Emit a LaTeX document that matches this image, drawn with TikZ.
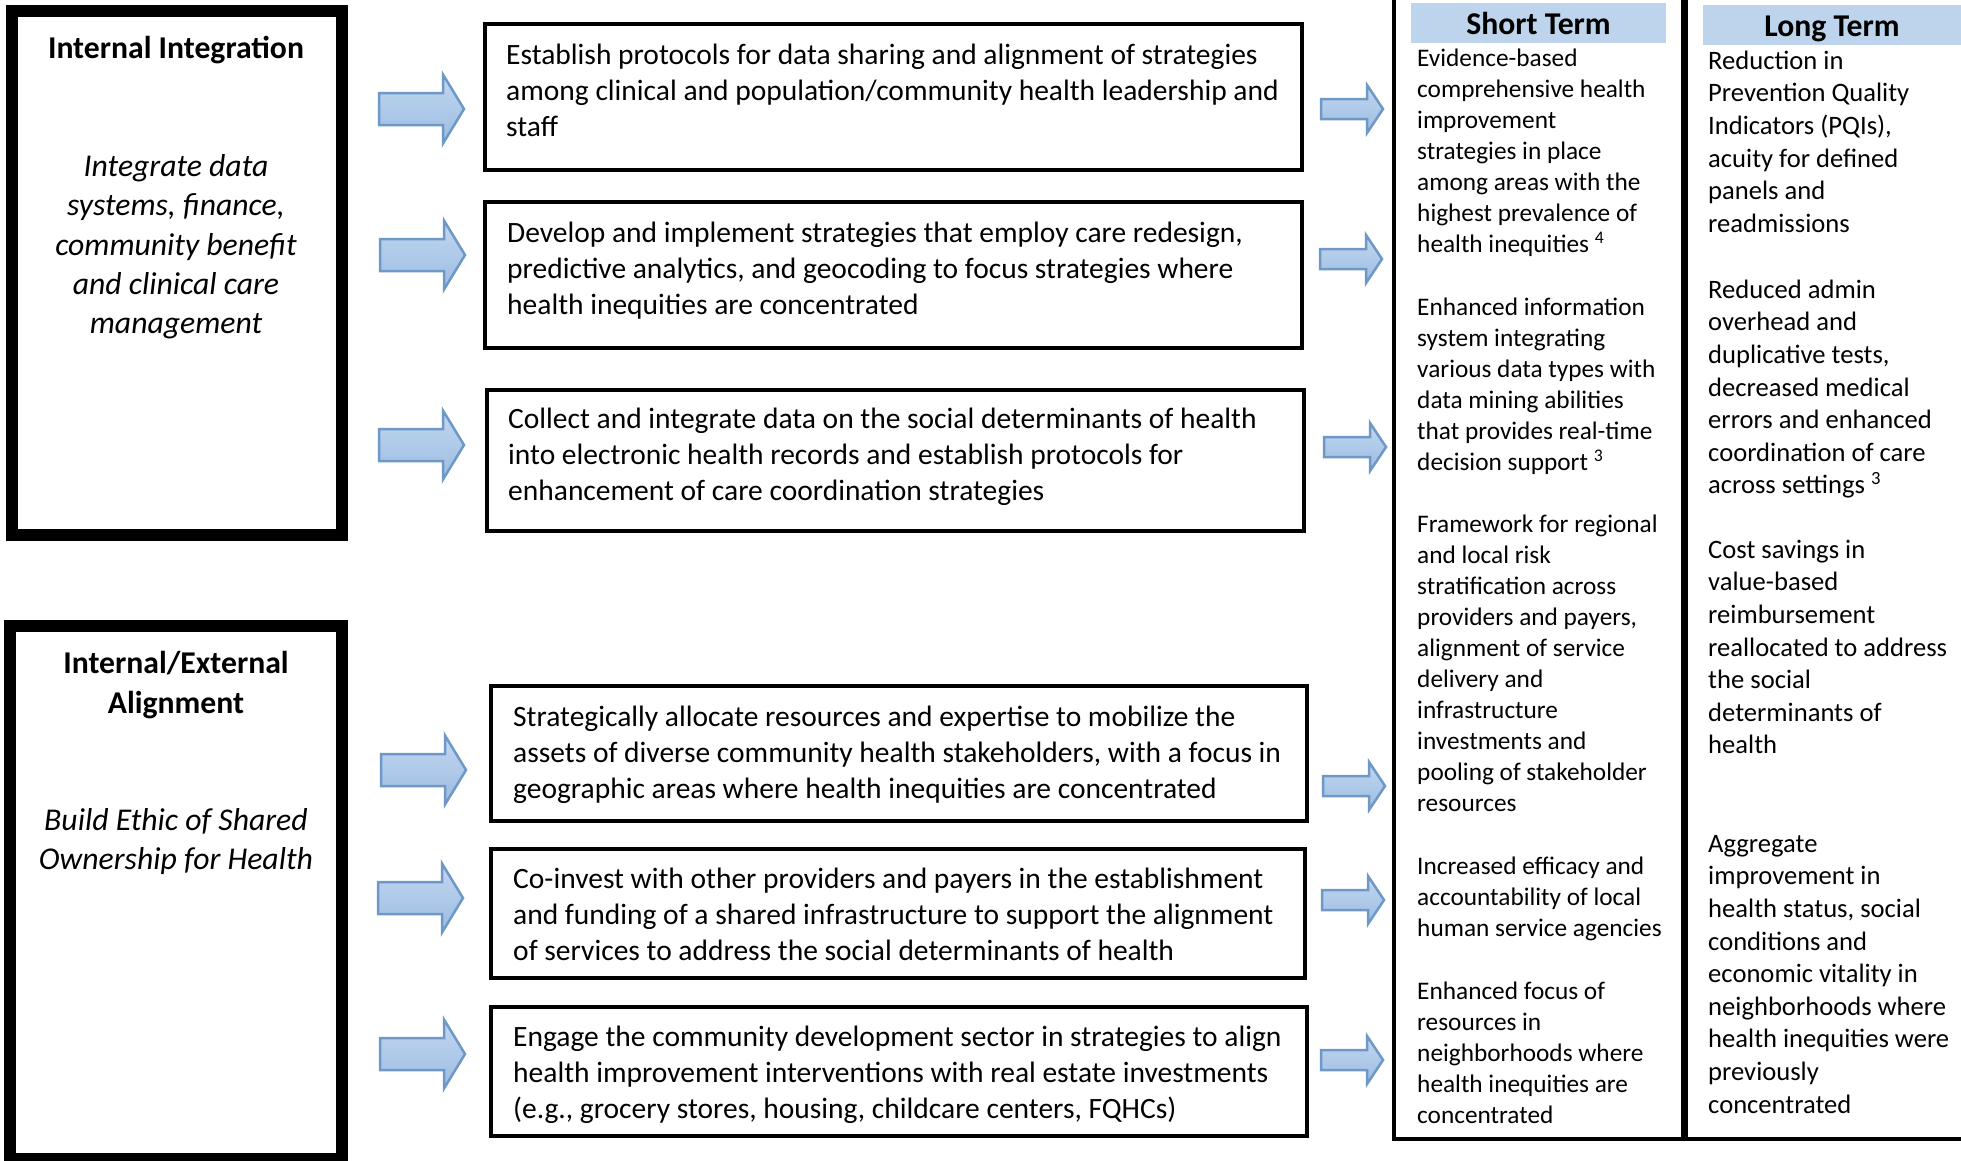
\documentclass[tikz,border=0pt]{standalone}
\usepackage{fontspec}
\setmainfont{Carlito}
\usetikzlibrary{calc}
\definecolor{hdrblue}{RGB}{189,212,236}
\definecolor{arrowtop}{RGB}{194,215,240}
\definecolor{arrowbot}{RGB}{156,188,226}
\definecolor{arrowedge}{RGB}{110,152,198}
\tikzset{
  outerbox/.style={draw=black, line width=12pt, inner sep=0pt, outer sep=0pt},
  stratbox/.style={draw=black, line width=3.5pt, inner sep=0pt, outer sep=0pt},
  titletext/.style={font=\fontsize{31.7}{39.5}\selectfont\bfseries, align=center, inner sep=0pt, anchor=north},
  desctext/.style={font=\fontsize{31.7}{39.2}\selectfont\itshape, align=center, inner sep=0pt, anchor=north},
  strattext/.style={font=\fontsize{29.5}{36}\selectfont, align=left, inner sep=0pt, anchor=north west},
  shorttext/.style={font=\fontsize{25.3}{31}\selectfont, align=left, inner sep=0pt, anchor=north west},
  longtext/.style={font=\fontsize{26.6}{32.6}\selectfont, align=left, inner sep=0pt, anchor=north west},
  header/.style={fill=hdrblue, font=\fontsize{31.7}{38}\selectfont\bfseries, inner sep=0pt, text height=22pt, text depth=0pt},
  arrowstyle/.style={draw=arrowedge, line width=2.5pt, top color=arrowtop, bottom color=arrowbot, line join=miter},
  bigarrow/.pic={\path[arrowstyle] (1,-16) -- (65,-16) -- (65,-34.5) -- (86,0) -- (65,34.5) -- (65,16) -- (1,16) -- cycle;},
  smallarrow/.pic={\path[arrowstyle] (1,-10) -- (47,-10) -- (47,-24) -- (63,0) -- (47,24) -- (47,10) -- (1,10) -- cycle;},
  frameline/.style={draw=black, line width=4pt},
}
\begin{document}
\begin{tikzpicture}[x=1pt,y=-1pt]
\useasboundingbox (0,0) rectangle (1961,1160);

% left boxes
\node[outerbox, minimum width=330, minimum height=524] (L1) at (177,273) {};
\node[titletext] (L1t) at (176,30.5) {\strut Internal Integration};
\node[desctext] (L1d) at (176,149) {\strut Integrate data\\systems, finance,\\community benefit\\and clinical care\\management};

\node[outerbox, minimum width=332, minimum height=533] (L2) at (176,892.5) {};
\node[titletext] (L2t) at (176,645.8) {\strut Internal/External\\Alignment};
\node[desctext] (L2d) at (176,802.5) {\strut Build Ethic of Shared\\Ownership for Health};

% big arrows
\pic (ba1) at (378,109) {bigarrow};
\pic (ba2) at (379,255) {bigarrow};
\pic (ba3) at (378,445) {bigarrow};
\pic (ba4) at (380,770) {bigarrow};
\pic (ba5) at (377,898) {bigarrow};
\pic (ba6) at (379,1054) {bigarrow};

% strategy boxes
\node[stratbox, minimum width=817, minimum height=146] (SA) at (893.5,97) {};
\node[strattext] (SAt) at (506,38.8) {\strut Establish protocols for data sharing and alignment of strategies\\among clinical and population/community health leadership and\\staff};
\node[stratbox, minimum width=817, minimum height=146] (SB) at (893.5,275) {};
\node[strattext] (SBt) at (507,216.8) {\strut Develop and implement strategies that employ care redesign,\\predictive analytics, and geocoding to focus strategies where\\health inequities are concentrated};
\node[stratbox, minimum width=817, minimum height=141] (SC) at (895.5,460.5) {};
\node[strattext] (SCt) at (508,402.8) {\strut Collect and integrate data on the social determinants of health\\into electronic health records and establish protocols for\\enhancement of care coordination strategies};
\node[stratbox, minimum width=816, minimum height=135] (SD) at (899,753.5) {};
\node[strattext] (SDt) at (513,700.8) {\strut Strategically allocate resources and expertise to mobilize the\\assets of diverse community health stakeholders, with a focus in\\geographic areas where health inequities are concentrated};
\node[stratbox, minimum width=814, minimum height=129] (SE) at (898,913.5) {};
\node[strattext] (SEt) at (513,862.8) {\strut Co-invest with other providers and payers in the establishment\\and funding of a shared infrastructure to support the alignment\\of services to address the social determinants of health};
\node[stratbox, minimum width=816, minimum height=129] (SF) at (899,1071.5) {};
\node[strattext] (SFt) at (513,1020.8) {\strut Engage the community development sector in strategies to align\\health improvement interventions with real estate investments\\(e.g., grocery stores, housing, childcare centers, FQHCs)};

% small arrows
\pic (sa1) at (1320,109) {smallarrow};
\pic (sa2) at (1319,259) {smallarrow};
\pic (sa3) at (1323,447) {smallarrow};
\pic (sa4) at (1322,786) {smallarrow};
\pic (sa5) at (1321,900) {smallarrow};
\pic (sa6) at (1320,1060) {smallarrow};

% outcome columns frame
\coordinate (stTop) at (1394,0);
\coordinate (stBot) at (1394,1139);
\coordinate (rEnd) at (1965,1139);
\coordinate (midTop) at (1684.5,0);
\coordinate (midBot) at (1684.5,1139);
\draw[frameline] (stTop) -- (stBot) -- (rEnd);
\draw[draw=black, line width=7pt] (midTop) -- (midBot);

% headers
\node[header, minimum width=255, minimum height=40] (hS) at (1538.5,23) {Short Term};
\node[header, minimum width=258, minimum height=40] (hL) at (1832,25) {Long Term};

% short term outcomes
\node[shorttext] (st1) at (1417,44.3) {\strut Evidence-based\\comprehensive health\\improvement\\strategies in place\\among areas with the\\highest prevalence of\\health inequities \textsuperscript{4}};
\node[shorttext] (st2) at (1417,293.3) {\strut Enhanced information\\system integrating\\various data types with\\data mining abilities\\that provides real-time\\decision support \textsuperscript{3}};
\node[shorttext] (st3) at (1417,510.3) {\strut Framework for regional\\and local risk\\stratification across\\providers and payers,\\alignment of service\\delivery and\\infrastructure\\investments and\\pooling of stakeholder\\resources};
\node[shorttext] (st4) at (1417,852.3) {\strut Increased efficacy and\\accountability of local\\human service agencies};
\node[shorttext] (st5) at (1417,977.8) {\strut Enhanced focus of\\resources in\\neighborhoods where\\health inequities are\\concentrated};

% long term outcomes
\node[longtext] (lt1) at (1708,46.2) {\strut Reduction in\\Prevention Quality\\Indicators (PQIs),\\acuity for defined\\panels and\\readmissions};
\node[longtext] (lt2) at (1708,275.2) {\strut Reduced admin\\overhead and\\duplicative tests,\\decreased medical\\errors and enhanced\\coordination of care\\across settings \textsuperscript{3}};
\node[longtext] (lt3) at (1708,535.2) {\strut Cost savings in\\value-based\\reimbursement\\reallocated to address\\the social\\determinants of\\health};
\node[longtext] (lt4) at (1708,829.2) {\strut Aggregate\\improvement in\\health status, social\\conditions and\\economic vitality in\\neighborhoods where\\health inequities were\\previously\\concentrated};
\end{tikzpicture}
\end{document}
